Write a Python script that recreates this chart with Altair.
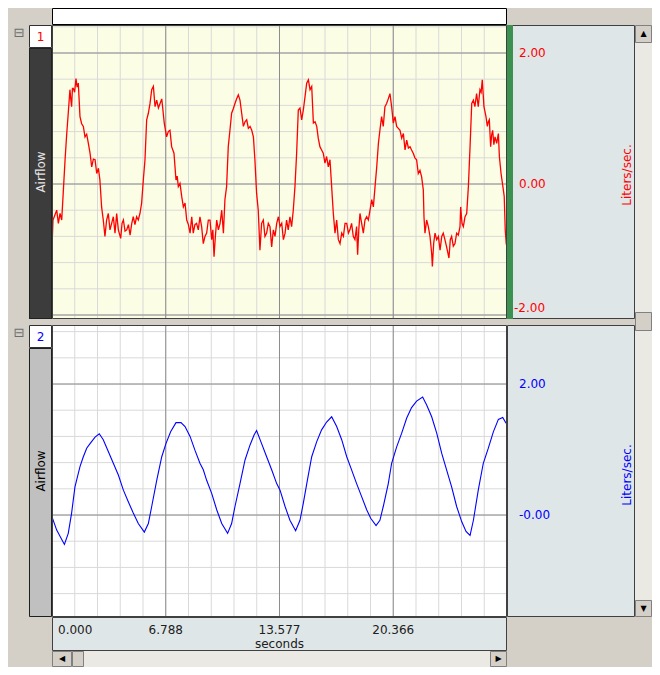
import altair as alt
import pandas as pd

# ---------------- data ----------------
red_t = [0.00, 0.06, 0.28, 0.38, 0.48, 0.58, 0.68, 0.78, 0.88, 0.97, 1.07, 1.12, 1.17, 1.22, 1.27, 1.35,
         1.43, 1.50, 1.57, 1.67, 1.77, 1.87, 1.97, 2.07, 2.17, 2.27, 2.37, 2.47, 2.57, 2.67, 2.77, 2.86,
         2.96, 3.06, 3.16, 3.26, 3.36, 3.46, 3.56, 3.66, 3.76, 3.86, 3.96, 4.10, 4.18, 4.26, 4.36, 4.46,
         4.56, 4.66, 4.76, 4.85, 4.95, 5.05, 5.15, 5.25, 5.35, 5.45, 5.55, 5.65, 5.75, 5.85, 5.95, 6.05,
         6.15, 6.25, 6.35, 6.45, 6.55, 6.60, 6.70, 6.84, 6.94, 7.04, 7.14, 7.28, 7.40, 7.47, 7.54, 7.64,
         7.74, 7.84, 7.94, 8.04, 8.14, 8.24, 8.34, 8.43, 8.53, 8.63, 8.73, 8.83, 8.93, 9.03, 9.13, 9.23,
         9.33, 9.43, 9.53, 9.60, 9.67, 9.75, 9.83, 9.93, 10.03, 10.13, 10.23, 10.32, 10.42, 10.52, 10.62,
         10.72, 10.82, 10.92, 11.02, 11.12, 11.22, 11.32, 11.42, 11.52, 11.62, 11.72, 11.82, 11.92, 12.02,
         12.11, 12.21, 12.31, 12.41, 12.51, 12.61, 12.71, 12.81, 12.91, 13.01, 13.11, 13.21, 13.31, 13.41,
         13.51, 13.61, 13.71, 13.81, 13.91, 14.00, 14.10, 14.20, 14.30, 14.40, 14.50, 14.60, 14.70, 14.80,
         14.90, 15.00, 15.10, 15.20, 15.30, 15.40, 15.50, 15.60, 15.70, 15.80, 15.89, 15.99, 16.09, 16.19,
         16.29, 16.39, 16.49, 16.59, 16.69, 16.79, 16.89, 16.99, 17.09, 17.19, 17.29, 17.39, 17.49, 17.59,
         17.69, 17.78, 17.88, 17.98, 18.08, 18.18, 18.24, 18.31, 18.38, 18.48, 18.58, 18.68, 18.78, 18.88,
         18.98, 19.08, 19.18, 19.28, 19.38, 19.48, 19.57, 19.67, 19.77, 19.87, 19.97, 20.07, 20.17, 20.27,
         20.37, 20.47, 20.57, 20.67, 20.77, 20.87, 20.97, 21.07, 21.17, 21.27, 21.37, 21.46, 21.56, 21.66,
         21.76, 21.86, 21.96, 22.06, 22.16, 22.20, 22.26, 22.36, 22.46, 22.56, 22.66, 22.70, 22.78, 22.86,
         22.96, 23.06, 23.16, 23.26, 23.35, 23.45, 23.55, 23.69, 23.77, 23.85, 23.95, 24.05, 24.15, 24.25,
         24.35, 24.39, 24.47, 24.55, 24.65, 24.75, 24.85, 24.95, 25.05, 25.15, 25.24, 25.34, 25.44, 25.54,
         25.61, 25.68, 25.78, 25.90, 25.98, 26.04, 26.10, 26.18, 26.24, 26.30, 26.37, 26.44, 26.54, 26.64,
         26.70, 26.80, 26.91, 26.99, 27.05, 27.11, 27.155]
red_v = [-0.96, -0.55, -0.40, -0.60, -0.45, -0.55, -0.09, 0.37, 0.77, 1.08, 1.44, 1.30, 1.18, 1.46, 1.46, 1.40,
         1.61, 1.48, 1.54, 1.03, 0.92, 0.88, 0.72, 0.76, 0.62, 0.47, 0.26, 0.38, 0.37, 0.16, 0.24, 0.06,
         -0.35, -0.55, -0.80, -0.55, -0.45, -0.70, -0.60, -0.50, -0.75, -0.45, -0.70, -0.83, -0.60, -0.55, -0.72, -0.70,
         -0.62, -0.78, -0.60, -0.50, -0.62, -0.50, -0.55, -0.45, -0.29, 0.06, 0.37, 0.98, 1.08, 1.23, 1.44, 1.49,
         1.18, 1.28, 1.16, 1.23, 1.30, 1.18, 0.93, 0.72, 0.80, 0.82, 0.57, 0.47, 0.06, 0.12, -0.04, 0.01,
         -0.19, -0.35, -0.29, -0.55, -0.62, -0.75, -0.50, -0.75, -0.62, -0.60, -0.70, -0.50, -0.65, -0.91, -0.80, -0.75,
         -0.55, -0.55, -0.85, -0.70, -1.11, -0.80, -0.55, -0.70, -0.60, -0.40, -0.75, -0.24, -0.04, 0.57, 0.82,
         1.08, 1.15, 1.23, 1.30, 1.36, 1.28, 1.08, 0.88, 0.95, 0.98, 0.85, 0.88, 0.82, 0.72,
         0.37, -0.14, -0.40, -1.01, -0.60, -0.55, -0.80, -0.75, -0.60, -0.65, -0.96, -0.70, -0.80, -0.60,
         -0.50, -0.65, -0.60, -0.85, -0.75, -0.55, -0.70, -0.50, -0.65, -0.40, -0.04, 0.47, 1.13, 1.16,
         0.98, 1.13, 1.33, 1.54, 1.59, 1.44, 1.49, 0.93, 0.95, 0.88, 0.70, 0.57, 0.52, 0.47,
         0.32, 0.42, 0.26, 0.37, -0.04, -0.45, -0.75, -0.55, -0.85, -0.91, -0.75, -0.80, -0.60, -0.60,
         -0.75, -0.70, -0.60, -0.80, -0.85, -0.65, -1.08, -0.70, -0.45, -0.60, -0.75, -0.55, -0.50, -0.55,
         -0.40, -0.24, -0.35, -0.04, 0.26, 0.62, 0.82, 1.03, 0.88, 1.18, 1.23, 1.30, 1.38, 1.18,
         0.93, 1.03, 0.88, 0.85, 0.82, 0.70, 0.77, 0.52, 0.67, 0.55, 0.57, 0.52, 0.47, 0.40,
         0.37, 0.16, 0.21, 0.11, -0.09, -0.50, -0.75, -0.55, -0.65, -0.80, -1.06, -1.26, -0.90, -0.75,
         -0.85, -0.80, -1.01, -0.80, -0.75, -0.85, -0.96, -1.13, -0.85, -0.80, -0.95, -0.91, -0.75, -0.78,
         -0.65, -0.35, -0.60, -0.65, -0.50, -0.45, -0.04, 0.57, 1.23, 1.28, 1.18, 1.38, 1.18, 1.44,
         1.40, 1.59, 1.18, 1.03, 0.88, 0.95, 0.98, 0.57, 0.75, 0.82, 0.60, 0.72, 0.62, 0.77,
         0.42, 0.16, -0.04, -0.19, -0.70, -0.91, -0.96]

blue_t = [0.00, 0.28, 0.74, 0.97, 1.17, 1.37, 1.67, 1.87, 2.07, 2.27, 2.57, 2.82, 3.06, 3.36, 3.66, 3.96,
          4.26, 4.56, 4.85, 5.15, 5.51, 5.75, 5.95, 6.25, 6.55, 6.80, 7.08, 7.40, 7.70, 7.94, 8.24, 8.53,
          8.83, 9.03, 9.23, 9.53, 9.83, 10.13, 10.48, 10.72, 10.92, 11.22, 11.52, 11.82, 12.06, 12.21, 12.51,
          12.81, 13.11, 13.41, 13.61, 13.91, 14.20, 14.54, 14.80, 15.00, 15.24, 15.50, 15.80, 16.09, 16.39,
          16.69, 16.99, 17.29, 17.59, 17.88, 18.18, 18.48, 18.78, 19.02, 19.34, 19.57, 19.77, 20.07, 20.27,
          20.57, 20.87, 21.17, 21.46, 21.76, 22.12, 22.36, 22.66, 22.96, 23.26, 23.55, 23.85, 24.15, 24.45,
          24.71, 24.95, 25.15, 25.44, 25.74, 26.04, 26.34, 26.64, 26.90, 27.10]
blue_v = [-0.03, -0.23, -0.45, -0.28, 0.03, 0.43, 0.74, 0.89, 1.02, 1.09, 1.19, 1.24, 1.15, 0.97, 0.79, 0.61,
          0.38, 0.20, 0.03, -0.13, -0.26, -0.13, 0.13, 0.53, 0.89, 1.09, 1.27, 1.41, 1.41, 1.35, 1.20, 0.99,
          0.79, 0.69, 0.53, 0.33, 0.08, -0.13, -0.28, -0.13, 0.13, 0.48, 0.84, 1.07, 1.22, 1.29, 1.09,
          0.89, 0.69, 0.48, 0.38, 0.13, -0.08, -0.24, -0.08, 0.18, 0.53, 0.89, 1.12, 1.30, 1.42,
          1.50, 1.35, 1.15, 0.89, 0.69, 0.48, 0.28, 0.08, -0.05, -0.16, -0.08, 0.13, 0.48, 0.79,
          1.04, 1.25, 1.48, 1.64, 1.74, 1.80, 1.68, 1.50, 1.25, 0.94, 0.69, 0.43, 0.13, -0.10,
          -0.25, -0.31, -0.08, 0.38, 0.79, 1.02, 1.27, 1.46, 1.49, 1.40]

x_end = 27.155
x_ticks = [0.0, 6.788, 13.577, 20.366]
x_tick_labels = ["0.000", "6.788", "13.577", "20.366"]
x_title = "seconds"
top_label_vals = [2.0, 0.0, -2.0]
top_label_text = ["2.00", "0.00", "-2.00"]
bot_label_vals = [2.0, 0.0]
bot_label_text = ["2.00", "-0.00"]
channel_ids = ["1", "2"]
channel_names = ["Airflow", "Airflow"]
unit_name = "Liters/sec."

top_domain = [-2.061, 2.4275]
bot_domain = [-1.557, 2.901]

# ---------------- styling ----------------
FONT = "DejaVu Sans"
GRAY = "#d4d0c8"
PANEL = "#dfe6e8"
TRACK = "#ebe9e3"
RED = "#ff0000"
BLUE = "#0000ff"
MINOR = "#d9d9d9"
MAJOR = "#8c8c8c"

ONE = alt.Data(values=[{"a": 0}])


def view(fill):
    if fill:
        return alt.ViewBackground(fill=fill, strokeWidth=0)
    return alt.ViewBackground(strokeWidth=0)


def txt(s, x, y, size=12, color="#000000", angle=0, align="center", baseline="middle"):
    return alt.Chart(ONE).mark_text(
        text=s, fontSize=size, color=color, angle=angle, align=align,
        baseline=baseline, font=FONT
    ).encode(x=alt.value(x), y=alt.value(y))


def border(w, h, color):
    return alt.Chart(ONE).mark_rect(filled=False, stroke=color, strokeWidth=1).encode(
        x=alt.value(0.5), x2=alt.value(w - 0.5), y=alt.value(0.5), y2=alt.value(h - 0.5))


def placeholder():
    return alt.Chart(ONE).mark_rect(opacity=0).encode(
        x=alt.value(0), x2=alt.value(1), y=alt.value(0), y2=alt.value(1))


def cell(w, h, fill=GRAY, stroke=None, items=None):
    items = list(items or [])
    if not items:
        items = [placeholder()]
    if stroke:
        items.append(border(w, h, stroke))
    return alt.layer(*items).properties(width=w, height=h, view=view(fill))


minor_x = [round(k * x_end / 20, 4) for k in range(21)]
major_x = x_ticks + [x_end]


def plot_panel(key, t, v, color, dom, minor_y, major_y, bg, h, lw):
    xs = alt.Scale(domain=[0, x_end], nice=False, zero=False)
    ys = alt.Scale(domain=dom, nice=False, zero=False)
    fx, fy = "gx" + key, "gy" + key
    vmin = alt.Chart(pd.DataFrame({fx: minor_x})).mark_rule(color=MINOR, strokeWidth=1, clip=True).encode(
        x=alt.X(fx + ":Q", scale=xs, axis=None))
    hmin = alt.Chart(pd.DataFrame({fy: minor_y})).mark_rule(color=MINOR, strokeWidth=1, clip=True).encode(
        y=alt.Y(fy + ":Q", scale=ys, axis=None))
    vmaj = alt.Chart(pd.DataFrame({fx: major_x})).mark_rule(color=MAJOR, strokeWidth=1, clip=True).encode(
        x=alt.X(fx + ":Q", scale=xs, axis=None))
    hmaj = alt.Chart(pd.DataFrame({fy: major_y})).mark_rule(color=MAJOR, strokeWidth=1, clip=True).encode(
        y=alt.Y(fy + ":Q", scale=ys, axis=None))
    df = pd.DataFrame({"t" + key: t, "v" + key: v})
    line = alt.Chart(df).mark_line(color=color, strokeWidth=lw, clip=True).encode(
        x=alt.X("t" + key + ":Q", scale=xs, axis=None),
        y=alt.Y("v" + key + ":Q", scale=ys, axis=None))
    return alt.layer(vmin, hmin, vmaj, hmaj, line, border(455, h, "#404040")).properties(
        width=455, height=h, view=view(bg))


def axis_panel(key, vals, labels, color, dom, h, green):
    ys = alt.Scale(domain=dom, nice=False, zero=False)
    f = "ly" + key
    df = pd.DataFrame({f: vals, "lab": labels})
    items = []
    lo = dom[0]
    inner = alt.Chart(df).transform_filter(f"datum.{f} > {lo + 0.2}").mark_text(
        align="left", baseline="middle", fontSize=12, font=FONT, color=color).encode(
        x=alt.value(12), y=alt.Y(f + ":Q", scale=ys, axis=None), text="lab:N")
    edge = alt.Chart(df).transform_filter(f"datum.{f} <= {lo + 0.2}").mark_text(
        align="left", baseline="bottom", fontSize=12, font=FONT, color=color).encode(
        x=alt.value(7), y=alt.Y(f + ":Q", scale=ys, axis=None), text="lab:N")
    items += [inner, edge]
    items.append(txt(unit_name, 120, 150, color=color, angle=270))
    items.append(border(128, h, "#404040"))
    if green:
        items.append(alt.Chart(ONE).mark_rect(color="#3b9150").encode(
            x=alt.value(0), x2=alt.value(6), y=alt.value(0), y2=alt.value(h)))
    return alt.layer(*items).properties(width=128, height=h, view=view(PANEL))


def label_column(idx, h, color, fill, tcolor):
    box = cell(23, 23, "#ffffff", "#303030", [txt(channel_ids[idx], 11.5, 12, color=color)])
    side = cell(23, h - 23, fill, "#202020",
                [txt(channel_names[idx], 12, h / 2 - 23, color=tcolor, angle=270)])
    return alt.vconcat(box, side, spacing=0)


def icon_column(h):
    return cell(21, h, GRAY, None, [txt("⊟", 11, 8, size=13, color="#6e6e6e")])


H1, H2 = 294, 292
top_minor_y = [round(-2.0 + 0.4 * k, 2) for k in range(12)]
bot_minor_y = [round(-1.2 + 0.4 * k, 2) for k in range(11)]

row1 = alt.hconcat(
    icon_column(H1),
    label_column(0, H1, RED, "#3c3c3c", "#e6e6e6"),
    plot_panel("1", red_t, red_v, RED, top_domain, top_minor_y, [-2.0, 0.0, 2.0], "#fbfde5", H1, 1.3),
    axis_panel("1", top_label_vals, top_label_text, RED, top_domain, H1, True),
    spacing=0)

row2 = alt.hconcat(
    icon_column(H2),
    label_column(1, H2, BLUE, "#c0c0c0", "#000000"),
    plot_panel("2", blue_t, blue_v, BLUE, bot_domain, bot_minor_y, [0.0, 2.0], "#ffffff", H2, 1.1),
    axis_panel("2", bot_label_vals, bot_label_text, BLUE, bot_domain, H2, False),
    spacing=0)

left_block = alt.vconcat(row1, cell(627, 6), row2, spacing=0)

vscroll = alt.vconcat(
    cell(17, 18, GRAY, "#808080", [txt("▲", 8.5, 9, size=8)]),
    cell(17, 269, TRACK),
    cell(17, 19, GRAY, "#808080"),
    cell(17, 269, TRACK),
    cell(17, 17, GRAY, "#808080", [txt("▼", 8.5, 9, size=8)]),
    spacing=0)

middle = alt.hconcat(left_block, vscroll, spacing=0)

row0 = alt.hconcat(cell(44, 17), cell(455, 17, "#ffffff", "#000000"), cell(145, 17), spacing=0)

xs_axis = alt.Scale(domain=[0, x_end], nice=False, zero=False)
tick_df = pd.DataFrame({"xt": x_ticks, "xl": x_tick_labels})
first_lab = alt.Chart(tick_df).transform_filter("datum.xt == 0").mark_text(
    align="left", baseline="middle", dx=6, fontSize=12, font=FONT, color="#202020").encode(
    x=alt.X("xt:Q", scale=xs_axis, axis=None), y=alt.value(13), text="xl:N")
other_lab = alt.Chart(tick_df).transform_filter("datum.xt > 0").mark_text(
    align="center", baseline="middle", fontSize=12, font=FONT, color="#202020").encode(
    x=alt.X("xt:Q", scale=xs_axis, axis=None), y=alt.value(13), text="xl:N")
XH = 34
xstrip = alt.layer(first_lab, other_lab, txt(x_title, 227.5, 27, color="#202020"),
                   border(455, XH, "#404040")).properties(width=455, height=XH, view=view(PANEL))

row3 = alt.hconcat(cell(44, XH), xstrip, cell(145, XH), spacing=0)

SH = 16
hscroll = alt.hconcat(
    cell(20, SH, GRAY, "#808080", [txt("◀", 10, SH / 2, size=8)]),
    cell(12, SH, GRAY, "#808080"),
    cell(406, SH, TRACK),
    cell(17, SH, GRAY, "#808080", [txt("▶", 8.5, SH / 2, size=8)]),
    spacing=0)

row4 = alt.hconcat(cell(44, SH), hscroll, cell(145, SH), spacing=0)

chart = alt.vconcat(row0, middle, row3, row4, spacing=0).properties(
    padding=0, background=GRAY
).configure_view(strokeWidth=0).configure_concat(spacing=0)

chart.save("out.html", embed_options={"renderer": "svg", "actions": False})
